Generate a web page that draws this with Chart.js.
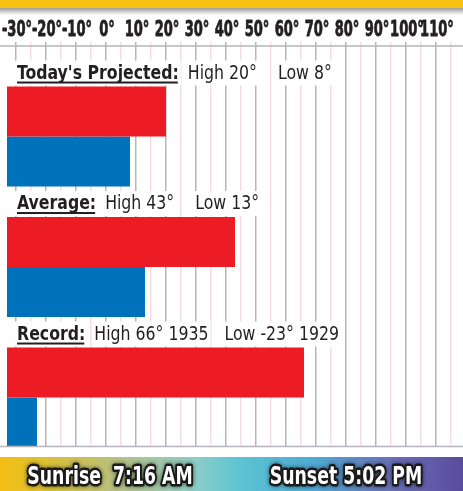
<!DOCTYPE html>
<html><head><meta charset="utf-8">
<script src="https://cdn.jsdelivr.net/npm/chart.js@4/dist/chart.umd.min.js"></script>
<style>html,body{margin:0;padding:0;background:#fff;overflow:hidden}#wrap{position:relative;width:463px;height:491px}</style>
</head><body><div id="wrap"><canvas id="c" width="463" height="491"></canvas></div>
<script>
// ---- data ----
const categories = ["Today's Projected:", "Average:", "Record:"];
const highs = [20, 43, 66];
const lows = [8, 13, -23];
const highUnits = ["°", "°", "°"];
const lowUnits = ["°", "°", "°"];
const highNotes = ["", "", " 1935"];
const lowNotes = ["", "", " 1929"];
const majorTicks = [-30, -20, -10, 0, 10, 20, 30, 40, 50, 60, 70, 80, 90, 100, 110];
const minorTicks = [-25, -15, -5, 5, 15, 25, 35, 45, 55, 65, 75, 85, 95, 105, 115];
const tickUnit = "°";
const sunriseText = "Sunrise  7:16 AM";
const sunsetText = "Sunset 5:02 PM";
const barBase = -33;

const FONT = '"DejaVu Sans Condensed", "DejaVu Sans", sans-serif';
const TXT = '#231f20';
const GRID_MAJOR = '#b6b6bc';
const GRID_MINOR = '#f7dce6';

const allTicks = majorTicks.concat(minorTicks).sort((a, b) => a - b);

// draw horizontally condensed text
function sText(c, t, x, y, sx, align, bold) {
  c.save();
  c.translate(x, y);
  c.scale(sx, 1);
  c.textAlign = align || 'left';
  if (bold) {
    c.lineWidth = bold;
    c.strokeStyle = c.fillStyle;
    c.lineJoin = 'round';
    c.strokeText(t, 0, 0);
  }
  c.fillText(t, 0, 0);
  c.restore();
}

const bgPlugin = {
  id: 'bg',
  beforeDraw(chart) {
    const c = chart.ctx, W = chart.width, H = chart.height;
    c.save();
    c.fillStyle = '#ffffff';
    c.fillRect(0, 0, W, H);
    c.fillStyle = '#f7c10f';
    c.fillRect(0, 0, W, 8);
    const g = c.createLinearGradient(0, 8, 0, 15);
    g.addColorStop(0, '#9a9a9c');
    g.addColorStop(1, '#ffffff');
    c.fillStyle = g;
    c.fillRect(0, 8, W, 7);
    const gb = c.createLinearGradient(0, 0, W, 0);
    gb.addColorStop(0.00, '#f4bd12');
    gb.addColorStop(0.10, '#dcc034');
    gb.addColorStop(0.25, '#b8c080');
    gb.addColorStop(0.42, '#8dcdc8');
    gb.addColorStop(0.52, '#5cc3d2');
    gb.addColorStop(0.68, '#4fa9d3');
    gb.addColorStop(0.84, '#6a72b8');
    gb.addColorStop(1.00, '#5b4a9c');
    c.fillStyle = gb;
    c.fillRect(0, 457, W, H - 457);
    c.restore();
  },
  afterDatasetsDraw(chart) {
    const c = chart.ctx, a = chart.chartArea, W = chart.width;
    const xs = chart.scales.x;
    c.save();
    // axis lines
    c.strokeStyle = GRID_MAJOR;
    c.lineWidth = 1.5;
    c.beginPath();
    c.moveTo(0, a.top); c.lineTo(W, a.top);
    c.moveTo(0, a.bottom + 0.5); c.lineTo(W, a.bottom + 0.5);
    c.stroke();
    // tick labels
    c.fillStyle = TXT;
    c.textBaseline = 'alphabetic';
    c.font = 'bold 22px ' + FONT;
    majorTicks.forEach(v => {
      sText(c, v + tickUnit, xs.getPixelForValue(v) + 1, 36, 0.66, 'center', 0.8);
    });
    // group labels
    const meta = chart.getDatasetMeta(0);
    const SX = 0.875;
    categories.forEach((cat, i) => {
      const el = meta.data[i];
      const top = el.y - el.height / 2;
      const baseY = top - 8;
      c.font = 'bold 20px ' + FONT;
      const tw = c.measureText(cat).width * SX;
      c.font = '20px ' + FONT;
      const hi = 'High ' + highs[i] + highUnits[i] + highNotes[i];
      const lo = 'Low ' + lows[i] + lowUnits[i] + lowNotes[i];
      const hw = c.measureText(hi).width * SX;
      const lw = c.measureText(lo).width * SX;
      const x0 = 17;
      const xh = x0 + tw + 9;
      const xl = xh + hw + (lowNotes[i] ? 16 : 21);
      c.fillStyle = '#ffffff';
      c.fillRect(x0 - 2, baseY - 18, tw + 4, 25);
      c.fillRect(xh - 2, baseY - 18, hw + 4, 25);
      c.fillRect(xl - 2, baseY - 18, lw + 4, 25);
      c.fillStyle = TXT;
      c.font = 'bold 20px ' + FONT;
      sText(c, cat, x0, baseY, SX);
      c.fillRect(x0, baseY + 3, tw - 1, 2);
      c.font = '20px ' + FONT;
      sText(c, hi, xh, baseY, SX);
      sText(c, lo, xl, baseY, SX);
    });
    c.restore();
  },
  afterDraw(chart) {
    const c = chart.ctx;
    c.save();
    c.font = 'bold 25px ' + FONT;
    c.textBaseline = 'alphabetic';
    c.lineJoin = 'round';
    [[sunriseText, 110], [sunsetText, 346]].forEach(([t, x]) => {
      c.save();
      c.translate(x, 484);
      c.scale(0.77, 1);
      c.textAlign = 'center';
      c.shadowColor = 'rgba(0,0,0,0.6)';
      c.shadowBlur = 4;
      c.strokeStyle = '#1a1a1a';
      c.lineWidth = 5;
      c.strokeText(t, 0, 0);
      c.shadowBlur = 0;
      c.shadowColor = 'transparent';
      c.fillStyle = '#ffffff';
      c.fillText(t, 0, 0);
      c.restore();
    });
    c.restore();
  }
};

new Chart(document.getElementById('c'), {
  type: 'bar',
  data: {
    datasets: [
      { label: 'High', data: highs.map((v, i) => ({ x: v, y: i })), backgroundColor: '#ed1c24', base: barBase, borderWidth: 0 },
      { label: 'Low', data: lows.map((v, i) => ({ x: v, y: i })), backgroundColor: '#0072bc', base: barBase, borderWidth: 0 }
    ]
  },
  options: {
    indexAxis: 'y',
    responsive: false,
    animation: false,
    devicePixelRatio: 1,
    layout: { padding: { top: 0, left: 0, right: 0, bottom: 45 } },
    plugins: { legend: { display: false }, tooltip: { enabled: false }, title: { display: false } },
    datasets: { bar: { categoryPercentage: 0.766, barPercentage: 1 } },
    scales: {
      x: {
        type: 'linear', position: 'top', min: -35.33, max: 119,
        afterBuildTicks: s => { s.ticks = allTicks.map(v => ({ value: v })); },
        afterFit: s => { s.height = 46; },
        grid: {
          color: ctx => (ctx.tick && majorTicks.includes(ctx.tick.value)) ? GRID_MAJOR : GRID_MINOR,
          lineWidth: 1.5, tickLength: 4, drawTicks: true
        },
        border: { display: false },
        ticks: { display: false, autoSkip: false }
      },
      y: {
        type: 'linear', display: false, reverse: true, offset: false, min: -0.6935, max: 2.3716,
        afterBuildTicks: s => { s.ticks = categories.map((c, i) => ({ value: i })); },
        grid: { display: false }
      }
    }
  },
  plugins: [bgPlugin]
});
</script></body></html>
